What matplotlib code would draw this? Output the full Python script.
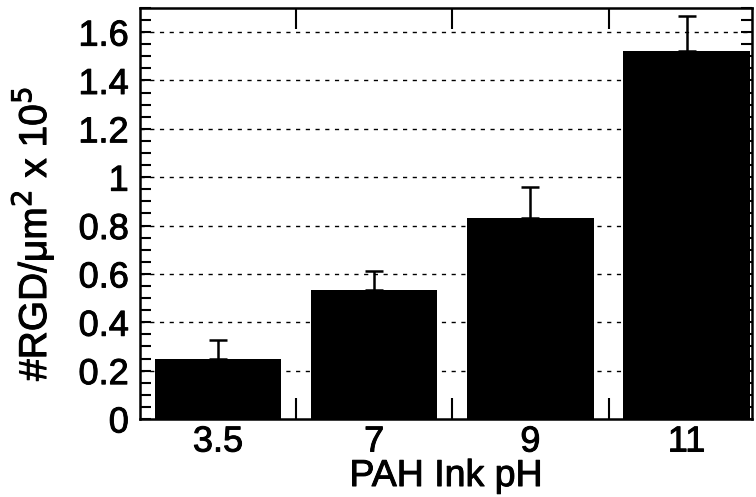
import matplotlib

matplotlib.use("Agg")
import matplotlib.pyplot as plt
import matplotlib.patheffects as pe
import numpy as np
from matplotlib.ticker import FixedLocator, MultipleLocator

plt.rcParams["font.family"] = ["Liberation Sans", "DejaVu Sans"]

ph_labels = ["3.5", "7", "9", "11"]
rgd_density = [0.248, 0.534, 0.832, 1.52]
rgd_error = [0.079, 0.077, 0.128, 0.148]
y_ticks = [0, 0.2, 0.4, 0.6, 0.8, 1.0, 1.2, 1.4, 1.6]
y_tick_labels = ["0", "0.2", "0.4", "0.6", "0.8", "1", "1.2", "1.4", "1.6"]

fig = plt.figure(figsize=(7.56, 4.97), dpi=100)
ax = fig.add_axes([0.185, 0.157, 0.81, 0.827])

x = np.arange(len(ph_labels))
for y in y_ticks[1:]:
    ax.axhline(y, color="black", linestyle=(0, (3, 4)), linewidth=1.0, zorder=1)

ax.bar(x, rgd_density, width=0.81, color="black", zorder=2)
ax.errorbar(x, rgd_density, yerr=[np.zeros(len(x)), rgd_error], fmt="none",
            ecolor="black", elinewidth=1.8, capsize=6.5, capthick=1.8, zorder=3)

ax.set_xlim(-0.5, 3.42)
ax.set_ylim(0, 1.70)

ax.yaxis.set_major_locator(FixedLocator(y_ticks))
ax.set_yticklabels(y_tick_labels)
ax.yaxis.set_minor_locator(MultipleLocator(0.05))
ax.tick_params(axis="y", which="both", direction="in", left=True, right=True,
               length=8, width=1.5, labelsize=26, pad=8)

ax.set_xticks(x)
ax.set_xticklabels(ph_labels)
ax.tick_params(axis="x", which="major", length=0, labelsize=26, pad=4)
ax.xaxis.set_minor_locator(FixedLocator(x[:-1] + 0.5))
ax.tick_params(axis="x", which="minor", direction="in", top=True, bottom=True,
               length=15, width=1.5)

for spine in ax.spines.values():
    spine.set_linewidth(1.8)

ax.set_xlabel("PAH Ink pH", fontsize=27)
ax.xaxis.set_label_coords(0.5, -0.095)
ax.set_ylabel("#RGD/\u03bcm$^2$ x 10$^5$", fontsize=28)
ax.yaxis.set_label_coords(-0.138, 0.45)

# scanned print looks heavier than the regular face
thicken = [pe.withStroke(linewidth=0.7, foreground="black")]
for text in ax.get_xticklabels() + ax.get_yticklabels() + [ax.xaxis.label, ax.yaxis.label]:
    text.set_path_effects(thicken)

fig.savefig("out.png", dpi=100)
